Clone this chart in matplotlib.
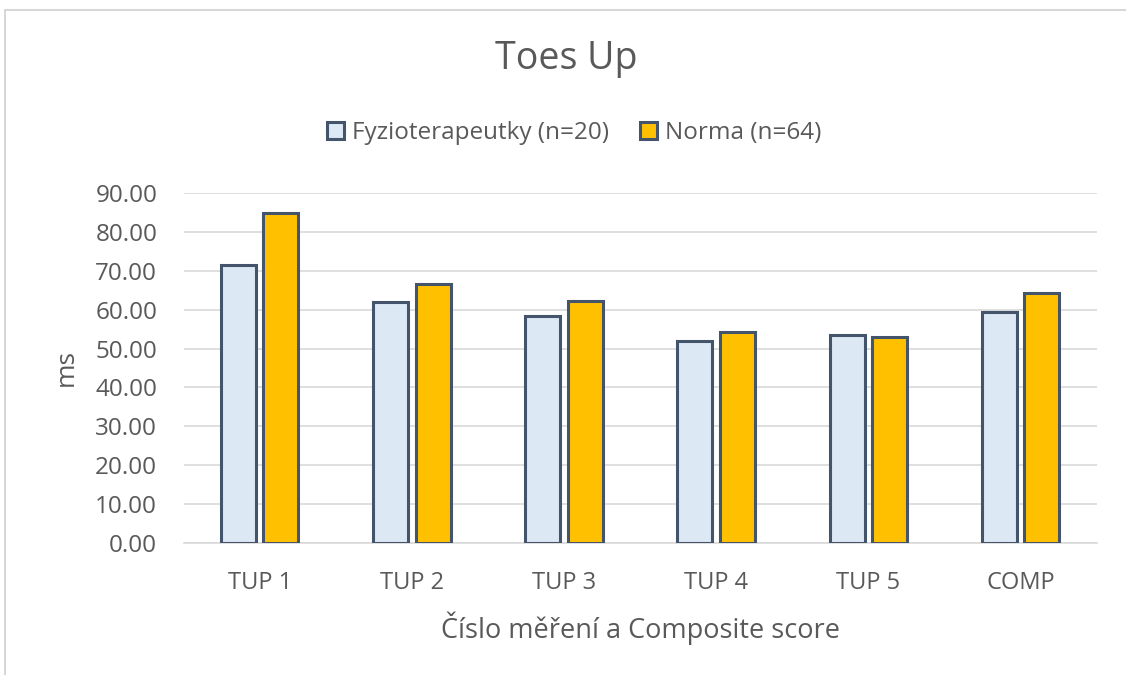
import numpy as np
import matplotlib.pyplot as plt
from matplotlib.patches import Rectangle
from matplotlib.ticker import FormatStrFormatter

plt.rcParams['font.family'] = ['Open Sans', 'DejaVu Sans']

categories = ['TUP 1', 'TUP 2', 'TUP 3', 'TUP 4', 'TUP 5', 'COMP']
fyzio = [71.5, 62.0, 58.3, 51.9, 53.5, 59.5]
norma = [84.9, 66.5, 62.3, 54.3, 52.9, 64.2]
series_names = ['Fyzioterapeutky (n=20)', 'Norma (n=64)']

text_col = '#595959'
edge_col = '#44546A'

fig = plt.figure(figsize=(11.26, 6.75), dpi=100)
ax = fig.add_axes([0.163, 0.1956, 0.811, 0.5185])

x = np.arange(len(categories))
w = 0.23
gap = 0.05
ax.bar(x - (w + gap) / 2, fyzio, w, color='#DDE8F5', edgecolor=edge_col,
       linewidth=2.2, label=series_names[0], zorder=3)
ax.bar(x + (w + gap) / 2, norma, w, color='#FFC000', edgecolor=edge_col,
       linewidth=2.2, label=series_names[1], zorder=3)

ax.set_xlim(-0.5, len(categories) - 0.5)
ax.set_ylim(0, 90)
ax.set_yticks(np.arange(0, 91, 10))
ax.yaxis.set_major_formatter(FormatStrFormatter('%.2f'))
ax.set_xticks(x)
ax.set_xticklabels(categories)
ax.grid(axis='y', color='#D9D9D9', linewidth=1.2, zorder=0)
for s in ['top', 'right', 'left']:
    ax.spines[s].set_visible(False)
ax.spines['bottom'].set_color('#D9D9D9')
ax.spines['bottom'].set_linewidth(1.2)
ax.tick_params(axis='both', length=0, colors=text_col)
ax.tick_params(axis='y', labelsize=17.5, pad=19)
ax.tick_params(axis='x', labelsize=17, pad=20)

ax.set_ylabel('ms', fontsize=19, color=text_col, labelpad=12)
ax.set_xlabel('Číslo měření a Composite score', fontsize=19.5, color=text_col, labelpad=12)

fig.text(0.503, 0.912, 'Toes Up', ha='center', va='center', fontsize=27, color=text_col)
leg = fig.legend(loc='center', bbox_to_anchor=(0.51, 0.803), ncol=2, frameon=False,
                 fontsize=17.5, handlelength=0.7, handleheight=0.7, handletextpad=0.3,
                 columnspacing=1.3, labelcolor=text_col)

fig.add_artist(Rectangle((0.004, -0.1), 1.2, 1.0852, transform=fig.transFigure,
                         fill=False, edgecolor='#D0D0D0', linewidth=1.2))

fig.savefig('out.png', dpi=100)
